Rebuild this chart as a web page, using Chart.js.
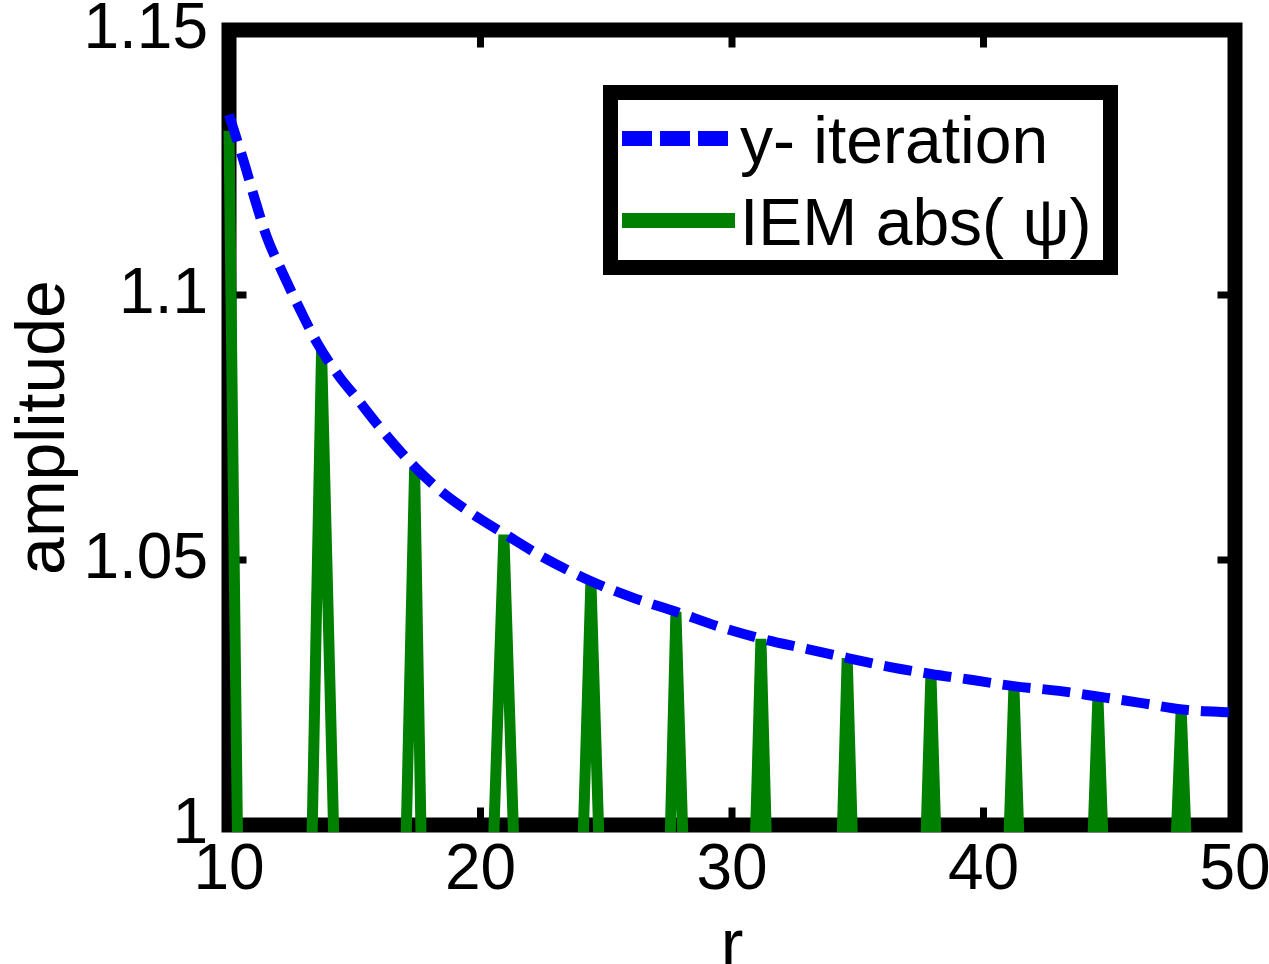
<!DOCTYPE html>
<html>
<head>
<meta charset="utf-8">
<script src="https://cdn.jsdelivr.net/npm/chart.js@4.4.1/dist/chart.umd.min.js"></script>
<style>
  html, body { margin: 0; padding: 0; background: #ffffff; overflow: hidden; }
  canvas { display: block; }
</style>
</head>
<body>
<canvas id="c" width="1269" height="964"></canvas>
<script>
// ---- data ----
const xTicks = [10, 20, 30, 40, 50];
const xTickLabels = ['10', '20', '30', '40', '50'];
const yTicks = [1, 1.05, 1.1, 1.15];
const yTickLabels = ['1', '1.05', '1.1', '1.15'];
const xTitle = 'r';
const yTitle = 'amplitude';
const seriesLabels = ['y- iteration', 'IEM abs( \u03C8)'];

// y-iteration envelope (blue dashed)
const blueR = [10.0, 10.6, 11.0, 11.5, 12.15, 12.8, 13.5, 14.4, 15.0, 16.0, 17.4, 18.5, 20.0, 21.0, 22.5, 24.4, 26.0, 27.8, 29.5, 31.2, 33.0, 34.6, 36.3, 37.9, 39.5, 41.2, 43.0, 44.6, 46.3, 47.9, 50.0];
const blueAmp = [1.134, 1.125, 1.1185, 1.111, 1.104, 1.0975, 1.091, 1.0845, 1.081, 1.075, 1.0675, 1.0627, 1.0577, 1.0548, 1.0505, 1.046, 1.043, 1.0402, 1.0374, 1.0351, 1.0332, 1.0315, 1.0298, 1.0285, 1.0274, 1.0262, 1.0253, 1.0242, 1.023, 1.0218, 1.0212];

// IEM abs(psi) (green spikes; values below 1 fall outside the axes)
const greenR = [10.00, 10.34,
  13.30, 13.68, 14.17,
  17.04, 17.38, 17.64,
  20.52, 20.93, 21.32,
  24.08, 24.39, 24.71,
  27.54, 27.77, 28.05,
  30.93, 31.15, 31.37,
  34.38, 34.58, 34.79,
  37.71, 37.91, 38.11,
  41.01, 41.21, 41.41,
  44.35, 44.55, 44.75,
  47.66, 47.86, 48.06];
const greenAmp = [1.131, 0.997,
  0.997, 1.0895, 0.997,
  0.997, 1.0672, 0.997,
  0.997, 1.0548, 0.997,
  0.997, 1.0460, 0.997,
  0.997, 1.0402, 0.997,
  0.997, 1.0351, 0.997,
  0.997, 1.0315, 0.997,
  0.997, 1.0285, 0.997,
  0.997, 1.0262, 0.997,
  0.997, 1.0242, 0.997,
  0.997, 1.0218, 0.997];

const FONT = "'Liberation Sans', Arial, Helvetica, sans-serif";

const toPoints = (xs, ys) => xs.map((x, i) => ({ x: x, y: ys[i] }));

const framePlugin = {
  id: 'frame',
  beforeDatasetsDraw(chart) {
    const { ctx, chartArea: a, scales } = chart;
    ctx.save();
    ctx.strokeStyle = '#000000';
    ctx.lineJoin = 'miter';
    ctx.lineWidth = 15;
    ctx.strokeRect(a.left, a.top, a.right - a.left, a.bottom - a.top);
    ctx.lineWidth = 7;
    ctx.beginPath();
    xTicks.forEach(v => {
      if (v === scales.x.min || v === scales.x.max) return;
      const px = scales.x.getPixelForValue(v);
      ctx.moveTo(px, a.top); ctx.lineTo(px, a.top + 17.5);
      ctx.moveTo(px, a.bottom); ctx.lineTo(px, a.bottom - 17.5);
    });
    yTicks.forEach(v => {
      if (v === scales.y.min || v === scales.y.max) return;
      const py = scales.y.getPixelForValue(v);
      ctx.moveTo(a.left, py); ctx.lineTo(a.left + 17.5, py);
      ctx.moveTo(a.right, py); ctx.lineTo(a.right - 17.5, py);
    });
    ctx.stroke();
    ctx.restore();
  }
};

const legendBoxPlugin = {
  id: 'legendBox',
  afterDatasetsDraw(chart) {
    const { ctx } = chart;
    const box = { x: 610.5, y: 92.5, w: 500, h: 175 };
    ctx.save();
    ctx.fillStyle = '#ffffff';
    ctx.fillRect(box.x, box.y, box.w, box.h);
    ctx.strokeStyle = '#000000';
    ctx.lineWidth = 15;
    ctx.lineJoin = 'miter';
    ctx.strokeRect(box.x, box.y, box.w, box.h);
    const rows = [138.5, 220.5];
    chart.data.datasets.forEach((ds, i) => {
      const y = rows[i];
      ctx.beginPath();
      ctx.strokeStyle = ds.borderColor;
      ctx.lineWidth = 15;
      ctx.lineCap = 'butt';
      ctx.setLineDash(ds.borderDash && ds.borderDash.length ? [30, 8] : []);
      ctx.moveTo(622, y); ctx.lineTo(735, y);
      ctx.stroke();
      ctx.setLineDash([]);
      ctx.fillStyle = '#000000';
      ctx.font = '66px ' + FONT;
      ctx.textBaseline = 'alphabetic';
      ctx.textAlign = 'left';
      ctx.fillText(ds.label, 740, y + 24);
    });
    ctx.restore();
  }
};

new Chart(document.getElementById('c'), {
  type: 'line',
  data: {
    datasets: [
      {
        label: seriesLabels[0],
        data: toPoints(blueR, blueAmp),
        borderColor: '#0000ff',
        borderWidth: 10,
        borderDash: [28, 12],
        pointRadius: 0,
        cubicInterpolationMode: 'monotone',
        fill: false,
        clip: { left: 8, top: 8, right: 8, bottom: 7 }
      },
      {
        label: seriesLabels[1],
        data: toPoints(greenR, greenAmp),
        borderColor: '#008000',
        borderWidth: 11,
        borderJoinStyle: 'bevel',
        pointRadius: 0,
        tension: 0,
        fill: false,
        clip: { left: 8, top: 8, right: 8, bottom: 7 }
      }
    ]
  },
  options: {
    responsive: false,
    animation: false,
    devicePixelRatio: 1,
    layout: { padding: { left: 0, right: 34, top: 30, bottom: 0 } },
    plugins: { legend: { display: false }, tooltip: { enabled: false } },
    scales: {
      x: {
        type: 'linear',
        min: 10,
        max: 50,
        afterBuildTicks: s => { s.ticks = xTicks.map(v => ({ value: v })); },
        afterFit: s => { s.height = 139; s.paddingLeft = 0; s.paddingRight = 0; },
        grid: { display: false, drawTicks: false },
        border: { display: false },
        ticks: {
          color: '#000000',
          font: { family: FONT, size: 64, lineHeight: 0.9 },
          padding: 18,
          maxRotation: 0,
          autoSkip: false,
          callback: v => xTickLabels[xTicks.indexOf(v)]
        },
        title: {
          display: true,
          text: xTitle,
          color: '#000000',
          font: { family: FONT, size: 68, lineHeight: 0.3 },
          padding: { top: 0, bottom: 6 }
        }
      },
      y: {
        type: 'linear',
        min: 1,
        max: 1.15,
        afterBuildTicks: s => { s.ticks = yTicks.map(v => ({ value: v })); },
        afterFit: s => { s.width = 229; s.paddingTop = 0; s.paddingBottom = 0; },
        grid: { display: false, drawTicks: false },
        border: { display: false },
        ticks: {
          color: '#000000',
          font: { family: FONT, size: 64, lineHeight: 0.9 },
          padding: 21,
          autoSkip: false,
          callback: v => yTickLabels[yTicks.indexOf(v)]
        },
        title: {
          display: true,
          text: yTitle,
          color: '#000000',
          font: { family: FONT, size: 68, lineHeight: 1 },
          padding: { top: 11, bottom: 0 }
        }
      }
    }
  },
  plugins: [framePlugin, legendBoxPlugin]
});
</script>
</body>
</html>
